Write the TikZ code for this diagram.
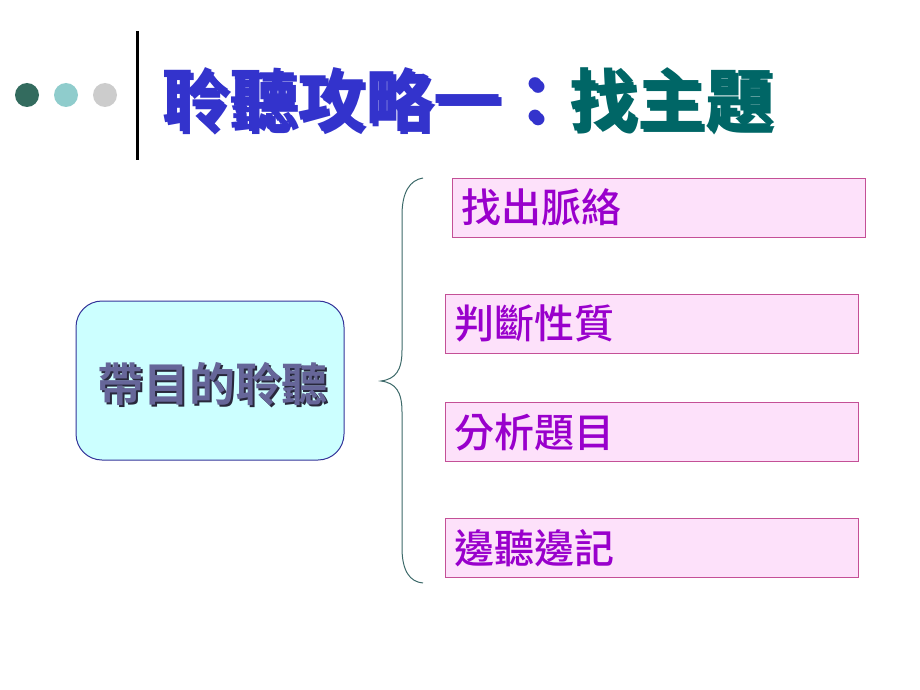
\documentclass[tikz,border=0pt]{standalone}
\usepackage{fontspec}
\usepackage{tikz}
\newfontfamily\cjk{Noto Sans CJK TC}[BoldFont={Noto Sans CJK TC Bold}]
\newfontfamily\cjkmed{Noto Sans CJK TC Medium}

\definecolor{dotdark}{RGB}{51,107,94}
\definecolor{dotlight}{RGB}{143,204,204}
\definecolor{dotgray}{RGB}{204,204,204}
\definecolor{titleblue}{RGB}{51,51,204}
\definecolor{titleteal}{RGB}{0,102,102}
\definecolor{shadowgray}{RGB}{125,125,125}
\definecolor{shadowdark}{RGB}{40,40,60}
\definecolor{mainfill}{RGB}{204,255,255}
\definecolor{mainline}{RGB}{51,51,153}
\definecolor{maintext}{RGB}{102,102,153}
\definecolor{itemfill}{RGB}{253,225,250}
\definecolor{itemline}{RGB}{196,80,150}
\definecolor{itemtext}{RGB}{153,0,204}
\definecolor{bracecol}{RGB}{60,105,105}

% text with a drop shadow: #1 shadow colour, #2 offset, #3 text
\newcommand{\shadowtext}[3]{\rlap{\hspace{#2}\raisebox{-#2}{\textcolor{#1}{#3}}}#3}

\tikzset{
  itembox/.style={draw=itemline, fill=itemfill, line width=1pt, anchor=west,
    minimum height=59pt, text width=395pt, align=left, inner xsep=9pt,
    font=\cjkmed\fontsize{40}{44}\selectfont, text=itemtext},
  titletext/.style={anchor=base west, inner sep=0pt, font=\cjk\bfseries\fontsize{68}{72}\selectfont}
}

\begin{document}
\begin{tikzpicture}[x=1pt,y=1pt,yscale=-1,xscale=1]
    \useasboundingbox (0,0) rectangle (920,690);

    %Shape: dots
    \fill [dotdark] (27,95) circle (12);
    \fill [dotlight] (66,95) circle (12);
    \fill [dotgray] (105,95) circle (12);
    %Straight Lines
    \draw [line width=3pt] (137,31) -- (137,160);

    % Text Node: title
    \node [titletext] (title) at (161,125) {\shadowtext{shadowgray}{3pt}{\textcolor{titleblue}{聆聽攻略一：}}\shadowtext{shadowgray}{3pt}{\textcolor{titleteal}{找主題}}};

    %Shape: Rounded Rectangle
    \draw [draw=mainline, fill=mainfill, line width=1pt, rounded corners=26pt] (76,301) rectangle (344,460);
    % Text Node
    \node [font=\cjk\bfseries\fontsize{46}{50}\selectfont, text=maintext, inner sep=0pt] (main) at (212,385) {\shadowtext{shadowdark}{2pt}{帶目的聆聽}};

    %Shape: Brace
    \draw [bracecol, line width=1pt] (423,178) .. controls (410,180) and (402,192) .. (402,215) -- (402,350) .. controls (402,370) and (396,379) .. (381,381) .. controls (396,383) and (402,392) .. (402,412) -- (402,548) .. controls (402,571) and (410,582) .. (423,583);

    %Shape: item boxes
    \node [itembox] (context) at (452,207.5) {找出脈絡};
    \node [itembox] (nature) at (445,323.5) {判斷性質};
    \node [itembox] (question) at (445,432) {分析題目};
    \node [itembox] (notes) at (445,548) {邊聽邊記};

\end{tikzpicture}
\end{document}
